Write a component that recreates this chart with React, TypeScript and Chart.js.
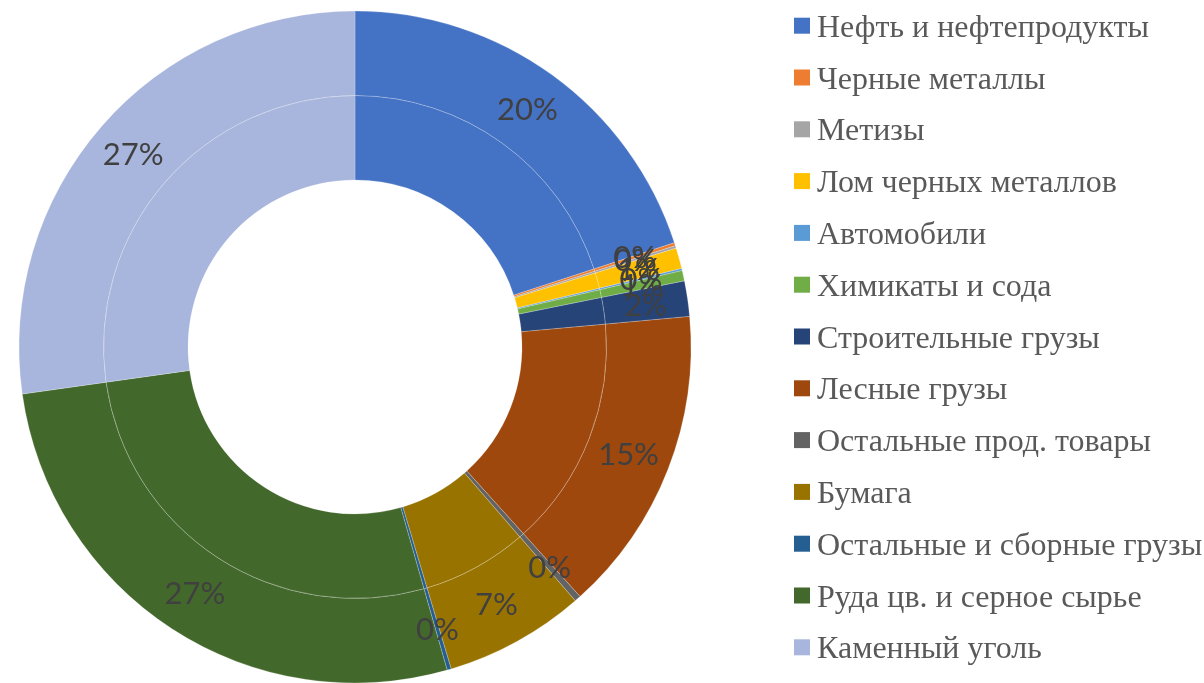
import React, { useEffect, useRef } from "react";
import { Chart, registerables } from "chart.js";

Chart.register(...registerables);

const categories: string[] = [
  "Нефть и нефтепродукты",
  "Черные металлы",
  "Метизы",
  "Лом черных металлов",
  "Автомобили",
  "Химикаты и сода",
  "Строительные грузы",
  "Лесные грузы",
  "Остальные прод. товары",
  "Бумага",
  "Остальные и сборные грузы",
  "Руда цв. и серное сырье",
  "Каменный уголь",
];

const outerValues: number[] = [19.95, 0.15, 0.12, 1.0, 0.1, 0.5, 1.7, 14.75, 0.3, 6.75, 0.2, 27.15, 27.2];
const innerValues: number[] = [19.95, 0.15, 0.12, 1.0, 0.1, 0.5, 1.7, 14.75, 0.3, 6.75, 0.2, 27.15, 27.2];

const colors: string[] = [
  "#4472C4",
  "#ED7D31",
  "#A5A5A5",
  "#FFC000",
  "#5B9BD5",
  "#70AD47",
  "#264478",
  "#9E480E",
  "#636363",
  "#997300",
  "#255E91",
  "#43682B",
  "#A8B5DC",
];

const W = 1204;
const H = 700;

const labelPlugin = {
  id: "sliceLabels",
  afterDatasetsDraw(chart: any) {
    const ctx = chart.ctx;
    const meta = chart.getDatasetMeta(0);
    const data = chart.data.datasets[0].data as number[];
    const total = data.reduce((a, b) => a + b, 0);
    ctx.save();
    ctx.font = "31px Lato";
    ctx.fillStyle = "#404040";
    ctx.textAlign = "center";
    ctx.textBaseline = "middle";
    meta.data.forEach((arc: any, i: number) => {
      const p = arc.getProps(["x", "y", "startAngle", "endAngle", "innerRadius", "outerRadius"], true);
      const mid = (p.startAngle + p.endAngle) / 2;
      const r = (p.innerRadius + p.outerRadius) / 2;
      const x = p.x + Math.cos(mid) * r;
      const y = p.y + Math.sin(mid) * r;
      const txt = Math.round((data[i] / total) * 100) + "%";
      ctx.fillText(txt, x, y + 1);
    });
    ctx.restore();
  },
};

const legendPlugin = {
  id: "sideLegend",
  afterDraw(chart: any) {
    const ctx = chart.ctx;
    const labels = chart.data.labels as string[];
    const bg = chart.data.datasets[0].backgroundColor as string[];
    ctx.save();
    ctx.font = "32px 'Liberation Serif'";
    ctx.textAlign = "left";
    ctx.textBaseline = "alphabetic";
    labels.forEach((lab, i) => {
      const cy = 25.7 + 51.8 * i;
      ctx.fillStyle = bg[i];
      ctx.fillRect(794, cy - 8, 16, 16);
      ctx.fillStyle = "#595959";
      ctx.fillText(lab, 817, cy + 11);
    });
    ctx.restore();
  },
};

export default function App() {
  const ref = useRef<HTMLCanvasElement | null>(null);
  useEffect(() => {
    if (!ref.current) return;
    const chart = new Chart(ref.current, {
      type: "doughnut",
      data: {
        labels: categories,
        datasets: [
          {
            data: outerValues,
            backgroundColor: colors,
            borderColor: "rgba(255,255,255,0.22)",
            borderWidth: 1,
          },
          {
            data: innerValues,
            backgroundColor: colors,
            borderColor: "rgba(255,255,255,0.22)",
            borderWidth: 1,
          },
        ],
      },
      options: {
        responsive: false,
        animation: false,
        cutout: "49.7%",
        layout: { padding: { left: 18.5, top: 10.5, right: 512.5, bottom: 16.5 } },
        plugins: {
          legend: { display: false },
          tooltip: { enabled: false },
        },
      },
      plugins: [labelPlugin, legendPlugin],
    });
    return () => chart.destroy();
  }, []);
  return (
    <div style={{ position: "absolute", left: 0, top: 0, width: W, height: H, overflow: "hidden", background: "#fff" }}>
      <canvas ref={ref} width={W} height={H} style={{ width: W, height: H, display: "block" }} />
    </div>
  );
}
